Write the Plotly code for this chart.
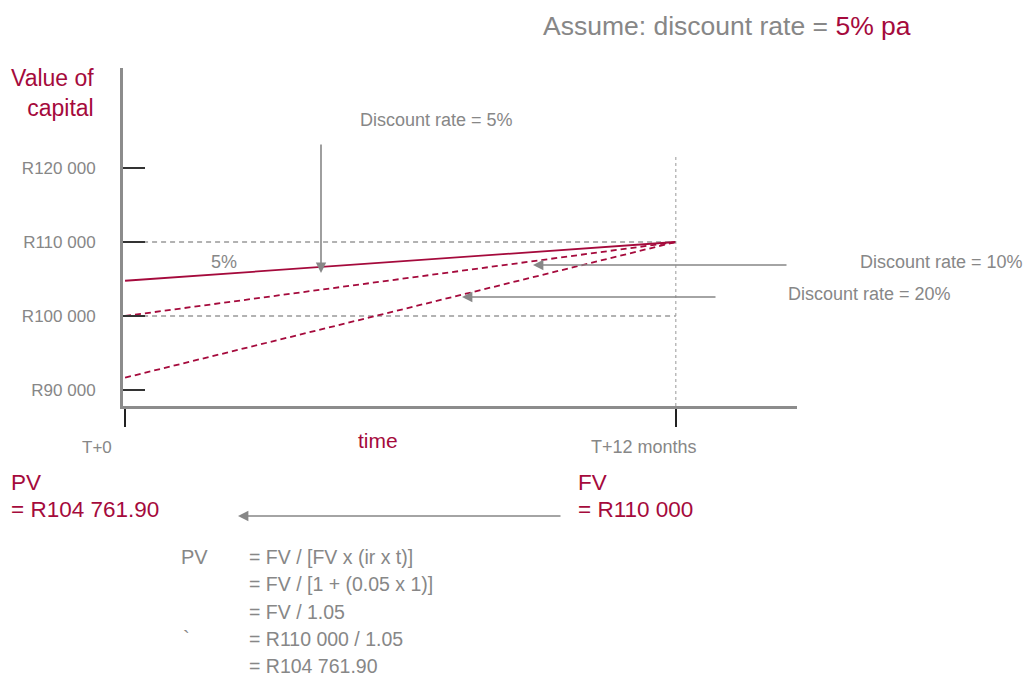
import plotly.graph_objects as go

# values
months = [0, 12]
value_5pct = [104761.90, 110000]
value_10pct = [100000, 110000]
value_20pct = [91666.67, 110000]
ref_levels = [110000, 100000]
y_tick_vals = [90000, 100000, 110000, 120000]
y_tick_text = ["R90 000", "R100 000", "R110 000", "R120 000"]
formula_lines = [
    "= FV / [FV x (ir x t)]",
    "= FV / [1 + (0.05 x 1)]",
    "= FV / 1.05",
    "= R110 000 / 1.05",
    "= R104 761.90",
]

CRIMSON = "#a50a3c"
GREY = "#878787"
FONT = "Liberation Sans, Arial, sans-serif"

W, H = 1027, 678
# plot area in screen pixels
L, R, T, B = 123, 797, 68, 406


def px(x):
    return (x - L) / (R - L)


def py(y):
    return (B - y) / (B - T)


fig = go.Figure()

for lvl in ref_levels:
    fig.add_trace(go.Scatter(x=months, y=[lvl, lvl], mode="lines",
                             line=dict(color="#999999", width=1.3, dash="5px,4px"),
                             hoverinfo="skip"))

fig.add_trace(go.Scatter(x=months, y=value_20pct, mode="lines",
                         line=dict(color=CRIMSON, width=1.8, dash="6px,4px")))
fig.add_trace(go.Scatter(x=months, y=value_10pct, mode="lines",
                         line=dict(color=CRIMSON, width=1.8, dash="6px,4px")))
fig.add_trace(go.Scatter(x=months, y=value_5pct, mode="lines",
                         line=dict(color=CRIMSON, width=1.8)))

# vertical dotted marker at T+12
fig.add_shape(type="line", xref="x", yref="paper", x0=12, x1=12, y0=0, y1=py(155),
              line=dict(color="#999999", width=1, dash="dot"))

# y-axis title
fig.add_annotation(text="Value of<br>capital", xref="paper", yref="paper",
                   x=px(96), y=py(93), xanchor="right", yanchor="middle",
                   showarrow=False, align="right",
                   font=dict(size=23, color=CRIMSON))

fig.add_annotation(text="Assume: discount rate = <span style='color:" + CRIMSON + "'>5% pa</span>",
                   xref="paper", yref="paper", x=px(541), y=py(26),
                   xanchor="left", yanchor="middle", showarrow=False,
                   font=dict(size=26.5, color=GREY))

def label(text, x, y, size=18, color=GREY, anchor="left"):
    fig.add_annotation(text=text, xref="paper", yref="paper", x=px(x), y=py(y),
                       xanchor=anchor, yanchor="middle", showarrow=False,
                       align="left", font=dict(size=size, color=color))


def arrow(x0, y0, x1, y1):
    # tail (x0, y0) -> head (x1, y1), pixel coords
    fig.add_annotation(text="", xref="paper", yref="paper", x=px(x1), y=py(y1),
                       ax=x0 - x1, ay=y0 - y1, axref="pixel", ayref="pixel",
                       showarrow=True, arrowhead=2, arrowsize=1.3, arrowwidth=1.6,
                       arrowcolor=GREY)


label("Discount rate = 5%", 358, 120)
arrow(321, 143, 321, 273)
label("5%", 209, 262)
arrow(788, 265, 533, 265)
label("Discount rate = 10%", 1025, 262, anchor="right")
arrow(717, 297, 462, 297)
label("Discount rate = 20%", 786, 294)

label("T+0", 97, 447, size=17, anchor="center")
label("T+12 months", 644, 447, size=18, anchor="center")
label("time", 378, 440, size=21, color=CRIMSON, anchor="center")

label("PV", 9, 482, size=22.5, color=CRIMSON)
label("= R104 761.90", 9, 509, size=22.5, color=CRIMSON)
label("FV", 576, 482, size=22.5, color=CRIMSON)
label("= R110 000", 576, 509, size=22.5, color=CRIMSON)
arrow(562, 516, 238, 516)

label("PV", 179, 557, size=20)
label("`", 181, 638, size=20)
for i, line in enumerate(formula_lines):
    label(line, 247, 557 + i * 27.3, size=19.5)

fig.update_layout(
    width=W, height=H,
    margin=dict(l=L, r=W - R, t=T, b=H - B),
    paper_bgcolor="white", plot_bgcolor="white",
    showlegend=False,
    font=dict(family=FONT, color=GREY),
)
fig.update_xaxes(range=[-0.045, 14.64], showgrid=False, zeroline=False,
                 showline=True, linewidth=3, linecolor="#8c8c8c",
                 tickvals=months, ticktext=["", ""], ticks="outside",
                 ticklen=18, tickwidth=1.5, tickcolor="#222222")
fig.update_yaxes(range=[87838, 133514], showgrid=False, zeroline=False,
                 showline=True, linewidth=3, linecolor="#8c8c8c",
                 tickvals=y_tick_vals, ticktext=y_tick_text, ticks="inside",
                 ticklen=22, tickwidth=1.5, tickcolor="#333333",
                 ticklabelstandoff=21,
                 tickfont=dict(size=17, color=GREY))

# drop the default page margin so the figure fills the window exactly
fig.write_html("out.html", config={"displayModeBar": False},
               post_script="document.body.style.margin='0';document.body.style.overflow='hidden';")
